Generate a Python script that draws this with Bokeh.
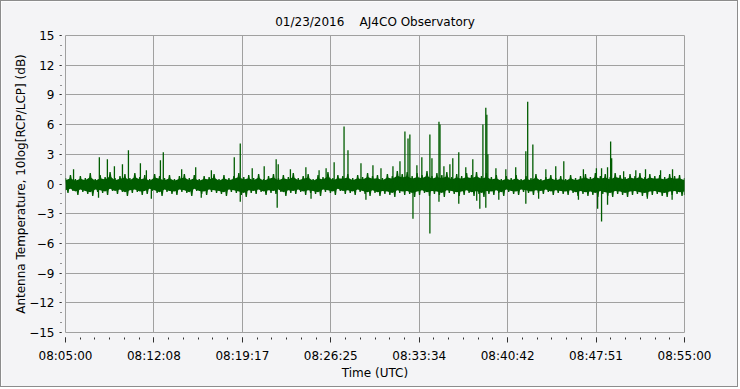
from bokeh.plotting import figure
from bokeh.models import Range1d, FixedTicker, CustomJSTickFormatter, ColumnDataSource
from bokeh.embed import file_html
from bokeh.resources import INLINE

# ---- data (seconds after 08:05:00 UTC, dB) ----
band_step = 24  # seconds between envelope samples
band_upper = [
    0.6, 0.9, 0.5, 0.8, 0.6, 1.1, 0.5, 0.9, 0.7, 1.2, 0.6, 0.8, 1.0, 0.6, 1.1, 0.7, 0.9, 0.5, 1.0, 0.8, 0.6,
    0.9, 0.5, 0.8, 1.0, 0.6, 0.9, 0.5, 0.8, 0.7, 1.0, 0.5, 0.9, 0.6, 0.8, 1.1, 0.7, 0.9, 0.6, 1.0, 0.5, 0.8,
    1.0, 0.6, 0.9, 0.7, 1.1, 0.6, 0.8, 1.0, 0.5, 0.9, 0.7, 1.2, 0.6, 0.9, 0.8, 1.0, 0.6, 0.9, 0.7, 1.1, 0.8,
    0.9, 0.6, 1.0, 0.8, 1.3, 1.0, 1.2, 0.8, 1.1, 0.9, 1.3, 0.8, 1.1, 0.9, 1.2, 0.7, 1.0, 0.8, 1.1, 0.9, 1.2,
    0.8, 1.1, 0.7, 0.9, 0.5, 0.8, 0.6, 0.9, 0.5, 0.8, 0.6, 1.0, 0.5, 0.7, 0.9, 0.6, 0.8, 0.5, 0.9, 0.6, 0.8,
    1.0, 0.7, 1.1, 0.8, 1.0, 0.7, 1.1, 0.9, 0.7, 1.0, 0.8, 1.1, 0.7, 1.0, 0.8, 0.9, 0.7, 1.0, 0.8, 0.9, 0.6,
]
band_lower = [
    -0.9, -0.7, -1.1, -0.8, -1.0, -1.2, -0.8, -0.9, -1.1, -0.7, -1.0, -0.8, -1.2, -0.9, -0.8, -1.1, -1.0, -0.7, -0.9, -1.2, -0.8,
    -1.0, -1.1, -0.8, -0.9, -1.2, -0.7, -1.0, -1.1, -0.8, -0.9, -1.0, -1.2, -0.8, -0.9, -1.1, -1.3, -0.9, -1.0, -0.8, -1.1, -0.9,
    -1.0, -0.8, -1.2, -0.9, -1.0, -0.8, -1.1, -0.9, -1.0, -1.2, -0.8, -0.9, -1.1, -0.7, -1.0, -0.9, -1.1, -0.8, -1.0, -1.2, -0.9,
    -1.2, -1.0, -1.1, -1.3, -0.9, -1.1, -1.0, -1.3, -1.1, -0.9, -1.2, -1.0, -1.1, -1.3, -0.9, -1.0, -1.2, -1.1, -0.9, -1.2, -1.0,
    -1.3, -1.0, -1.1, -0.9, -1.2, -0.8, -1.0, -1.1, -0.8, -0.9, -1.1, -0.9, -1.0, -0.8, -1.1, -0.9, -1.0, -1.1, -0.9, -1.2, -1.0,
    -1.2, -1.1, -1.3, -1.0, -1.2, -1.3, -1.0, -1.1, -1.3, -1.1, -1.0, -1.2, -1.3, -1.1, -1.0, -1.2, -1.3, -1.1, -1.0, -1.2, -1.1,
]
spike_times = [
    39, 164, 203, 237, 276, 305, 363, 392, 460, 474, 563, 631, 707, 818, 847, 905,
    963, 1021, 1031, 1090, 1165, 1229, 1263, 1302, 1350, 1369, 1432, 1490, 1529, 1587,
    1621, 1645, 1660, 1669, 1703, 1727, 1766, 1776, 1810, 1815, 1834, 1863, 1877, 1940,
    1906, 1974, 2023, 2037, 2042, 2047, 2086, 2134, 2182, 2231, 2240, 2265, 2328, 2376,
    2415, 2510, 2573, 2598, 2627, 2642, 2647, 2705, 2764, 2811, 2884, 2942,
]
spike_values = [
    1.5, 2.7, 2.5, 1.8, 2.0, 3.4, 2.1, 1.4, 2.4, 3.2, 1.5, 1.7, 1.4, 2.7, 4.1, 1.6,
    1.8, 2.5, 2.0, 1.5, 1.7, 1.4, 1.6, 2.2, 5.8, 3.4, 2.1, 1.9, 1.6, 1.8,
    2.3, 5.3, 4.6, 5.0, 1.9, 2.7, 5.0, 2.6, 6.3, 6.0, 1.8, 2.0, 2.6, 1.7,
    3.2, 2.5, 6.0, 7.7, 7.0, 3.0, 1.6, 1.5, 1.7, 3.3, 8.3, 4.0, 1.5, 1.8,
    2.3, 1.5, 1.6, 1.6, 1.7, 4.3, 2.6, 1.3, 1.4, 1.5, 1.4, 1.5,
]
dip_times = [160, 416, 658, 847, 1026, 1190, 1456, 1684, 1766, 1810, 1906, 1993, 2008,
             2037, 2100, 2231, 2293, 2486, 2579, 2598, 2627, 2820, 2940]
dip_values = [-1.4, -1.5, -1.4, -1.8, -2.4, -1.5, -1.6, -3.5, -5.0, -1.8, -2.0, -1.7, -2.5,
              -2.4, -1.6, -2.0, -1.5, -1.6, -2.5, -3.8, -2.1, -1.5, -1.6]

x_tick_labels = ["08:05:00", "08:12:08", "08:19:17", "08:26:25", "08:33:34",
                 "08:40:42", "08:47:51", "08:55:00"]
y_ticks = [-15, -12, -9, -6, -3, 0, 3, 6, 9, 12, 15]

span = 3000
GREEN = "#005c00"
GRID = "#a0a0a0"
BG = "#f4f4f6"
FONT = "DejaVu Sans"

# zigzag trace: each envelope sample gives an upper point then a lower point
zig_x, zig_y = [], []
for i, (u, l) in enumerate(zip(band_upper, band_lower)):
    t = i * band_step
    zig_x += [t, min(t + band_step / 2, span)]
    zig_y += [u, l]
band_x = [i * band_step for i in range(len(band_upper))]
core_up = [0.65 * u for u in band_upper]
core_lo = [0.7 * l for l in band_lower]

p = figure(width=738, height=387, output_backend="svg", toolbar_location=None,
           x_range=Range1d(0, span), y_range=Range1d(-15, 15),
           min_border_left=64, min_border_right=55, min_border_top=34, min_border_bottom=56,
           background_fill_color=BG, border_fill_color=BG)
p.styles = {"border": "1px solid #8c8c8c"}

p.title.text = "01/23/2016\u00a0\u00a0\u00a0\u00a0AJ4CO Observatory"
p.title.align = "center"
p.title.text_font = FONT
p.title.text_font_size = "12px"
p.title.text_font_style = "normal"
p.title.text_color = "black"
p.title.standoff = 14

p.outline_line_color = GRID

nmaj = len(x_tick_labels) - 1
x_major = [span * i / nmaj for i in range(nmaj + 1)]
x_minor = [span * i / (nmaj * 6) for i in range(nmaj * 6 + 1)]
p.xaxis.ticker = FixedTicker(ticks=x_major, minor_ticks=x_minor)
p.xaxis.formatter = CustomJSTickFormatter(args=dict(labels=x_tick_labels),
                                          code="return labels[index];")
y_minor = list(range(-15, 16))
p.yaxis.ticker = FixedTicker(ticks=y_ticks, minor_ticks=y_minor)

p.xaxis.axis_label = "Time (UTC)"
p.yaxis.axis_label = "Antenna Temperature, 10log[RCP/LCP] (dB)"
for ax in (p.xaxis, p.yaxis):
    ax.axis_line_color = None
    ax.major_tick_line_color = "#303030"
    ax.minor_tick_line_color = "#303030"
    ax.major_label_text_font = FONT
    ax.major_label_text_font_size = "12px"
    ax.major_label_text_color = "black"
    ax.axis_label_text_font = FONT
    ax.axis_label_text_font_size = "12px"
    ax.axis_label_text_font_style = "normal"
    ax.axis_label_text_color = "black"

p.xaxis.major_tick_in = -5
p.xaxis.major_tick_out = 10
p.xaxis.minor_tick_in = -5
p.xaxis.minor_tick_out = 7
p.xaxis.major_label_standoff = 6
p.xaxis.axis_label_standoff = 0

p.yaxis.major_tick_in = -4
p.yaxis.major_tick_out = 6
p.yaxis.minor_tick_in = -4
p.yaxis.minor_tick_out = 5
p.yaxis.major_label_standoff = 5
p.yaxis.axis_label_standoff = -2

p.grid.grid_line_color = GRID
p.grid.grid_line_alpha = 1.0
p.xgrid.ticker = FixedTicker(ticks=x_major)
p.ygrid.ticker = FixedTicker(ticks=y_ticks)

band = ColumnDataSource(dict(x=band_x, up=core_up, lo=core_lo))
p.varea(x="x", y1="lo", y2="up", source=band, fill_color=GREEN)
p.line(x=zig_x, y=zig_y, line_color=GREEN, line_width=1.3)

spk = ColumnDataSource(dict(x=spike_times, y=spike_values, z=[0] * len(spike_times)))
p.segment(x0="x", y0="z", x1="x", y1="y", source=spk, line_color=GREEN, line_width=1.3)
dip = ColumnDataSource(dict(x=dip_times, y=dip_values, z=[0] * len(dip_times)))
p.segment(x0="x", y0="z", x1="x", y1="y", source=dip, line_color=GREEN, line_width=1.3)

open("out.html", "w").write(file_html(p, INLINE))
